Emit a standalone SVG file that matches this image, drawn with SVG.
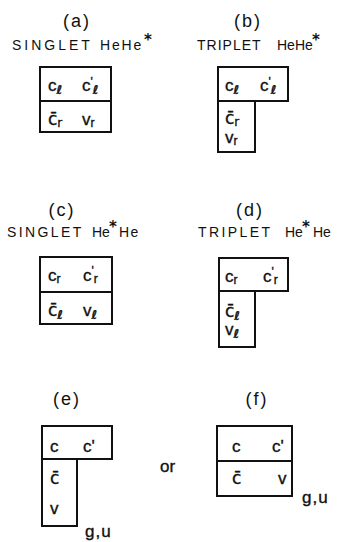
<svg xmlns="http://www.w3.org/2000/svg" width="341" height="542" viewBox="0 0 341 542">
<style>
.lab{font-family:"Liberation Sans",Arial,sans-serif;font-size:18px;letter-spacing:2px;text-anchor:middle;fill:#111}
.ttl{font-family:"Liberation Sans",Arial,sans-serif;font-size:14px;fill:#111}
.st{font-family:"DejaVu Sans",sans-serif;font-size:15px;font-weight:bold;fill:#111}
.t{font-family:"Liberation Sans",Arial,sans-serif;font-size:17px;fill:#111;stroke:#111;stroke-width:0.35}
.m{font-family:"DejaVu Sans",sans-serif;font-size:17px;fill:#111;stroke:#111;stroke-width:0.35}
.sub{font-size:12px}
.ell{font-family:"DejaVu Sans",sans-serif;font-size:12px;font-weight:bold;font-style:italic}
.box{fill:none;stroke:#111;stroke-width:2}
</style>
<rect width="341" height="542" fill="#fff"/>
<g id="a">
<text class="lab" x="77" y="27">(a)</text>
<text class="ttl" x="12" y="50" letter-spacing="3">SINGLET</text>
<text class="ttl" x="100" y="50" letter-spacing="1.8">HeHe</text>
<text class="st" x="144" y="45">*</text>
<rect class="box" x="40" y="67" width="71" height="65"/>
<line class="box" x1="40" y1="101" x2="111" y2="101"/>
<text class="t" x="48" y="91">c<tspan class="ell" dy="3">ℓ</tspan></text>
<text class="t" x="82" y="91">c<tspan class="sub" dy="-5">'</tspan><tspan class="ell" dy="8">ℓ</tspan></text>
<text class="m" x="48" y="125">c̄<tspan class="sub" dy="2">r</tspan></text>
<text class="t" x="82" y="125">v<tspan class="sub" dy="2">r</tspan></text>
</g>
<g id="b">
<text class="lab" x="248" y="27">(b)</text>
<text class="ttl" x="197" y="50" letter-spacing="1">TRIPLET</text>
<text class="ttl" x="277" y="50">HeHe</text>
<text class="st" x="312" y="45">*</text>
<rect class="box" x="218" y="67" width="70" height="34"/>
<path class="box" d="M218,101 V152 H255 V101"/>
<text class="t" x="225" y="91">c<tspan class="ell" dy="3">ℓ</tspan></text>
<text class="t" x="260" y="91">c<tspan class="sub" dy="-5">'</tspan><tspan class="ell" dy="8">ℓ</tspan></text>
<text class="m" x="225" y="124">c̄<tspan class="sub" dy="2">r</tspan></text>
<text class="t" x="225" y="143">v<tspan class="sub" dy="2">r</tspan></text>
</g>
<g id="c">
<text class="lab" x="62" y="216">(c)</text>
<text class="ttl" x="7" y="237" letter-spacing="2.4">SINGLET</text>
<text class="ttl" x="92" y="237">He</text>
<text class="st" x="109" y="232">*</text>
<text class="ttl" x="119" y="237" letter-spacing="1.5">He</text>
<rect class="box" x="40" y="257" width="72" height="67"/>
<line class="box" x1="40" y1="292" x2="112" y2="292"/>
<text class="t" x="48" y="281">c<tspan class="sub" dy="2">r</tspan></text>
<text class="t" x="83" y="281">c<tspan class="sub" dy="-6">'</tspan><tspan class="sub" dy="8">r</tspan></text>
<text class="m" x="48" y="316">c̄<tspan class="ell" dy="3">ℓ</tspan></text>
<text class="t" x="83" y="316">v<tspan class="ell" dy="3">ℓ</tspan></text>
</g>
<g id="d">
<text class="lab" x="250" y="216">(d)</text>
<text class="ttl" x="198" y="237" letter-spacing="2.4">TRIPLET</text>
<text class="ttl" x="285" y="237">He</text>
<text class="st" x="302" y="232">*</text>
<text class="ttl" x="313" y="237">He</text>
<rect class="box" x="219" y="258" width="69" height="33"/>
<path class="box" d="M219,291 V347 H255 V291"/>
<text class="t" x="225" y="282">c<tspan class="sub" dy="2">r</tspan></text>
<text class="t" x="263" y="282">c<tspan class="sub" dy="-6">'</tspan><tspan class="sub" dy="8">r</tspan></text>
<text class="m" x="225" y="317">c̄<tspan class="ell" dy="3">ℓ</tspan></text>
<text class="t" x="225" y="335">v<tspan class="ell" dy="3">ℓ</tspan></text>
</g>
<g id="e">
<text class="lab" x="67" y="405">(e)</text>
<rect class="box" x="42" y="426" width="70" height="33"/>
<path class="box" d="M42,459 V526 H77 V459"/>
<text class="t" x="50" y="452">c</text>
<text class="t" x="83" y="452">c'</text>
<text class="m" x="50" y="484">c̄</text>
<text class="t" x="50" y="514">v</text>
<text class="t" x="85" y="537" letter-spacing="1">g,u</text>
</g>
<text class="t" x="160" y="472">or</text>
<g id="f">
<text class="lab" x="257" y="405">(f)</text>
<rect class="box" x="217" y="426" width="75" height="70"/>
<line class="box" x1="217" y1="461" x2="292" y2="461"/>
<text class="t" x="232" y="452">c</text>
<text class="t" x="272" y="452">c'</text>
<text class="m" x="232" y="484">c̄</text>
<text class="t" x="278" y="484">v</text>
<text class="t" x="302" y="503" letter-spacing="1">g,u</text>
</g>
</svg>
